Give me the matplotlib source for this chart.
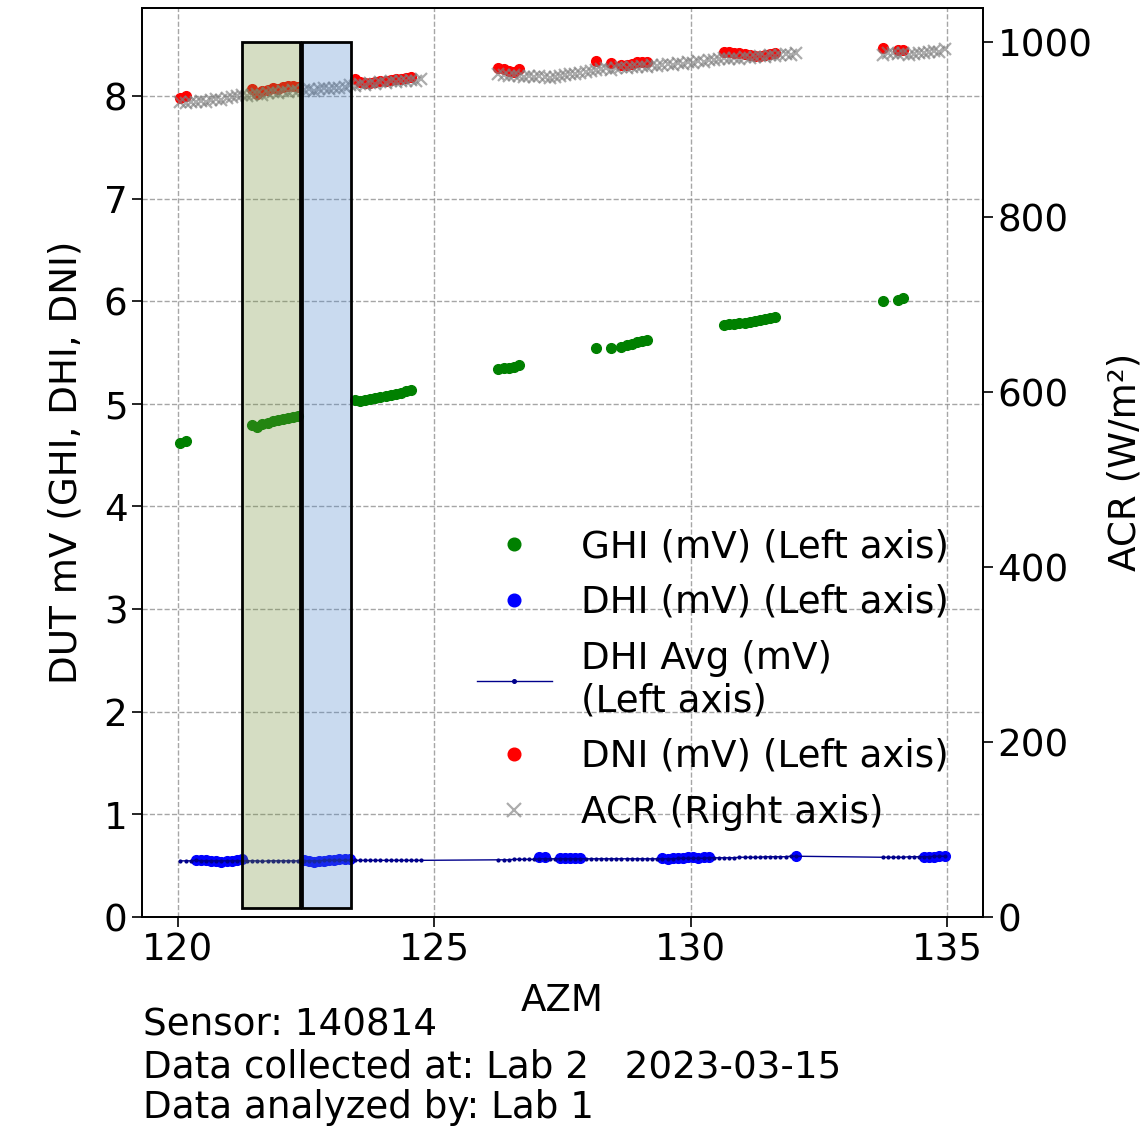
import numpy as np
import matplotlib
matplotlib.use('Agg')
import matplotlib.pyplot as plt
from matplotlib.patches import Rectangle

# all samples (AZM), with ACR and DHI average
azm_all = [120.05, 120.15, 120.25, 120.35, 120.45, 120.55, 120.65, 120.75, 120.85, 120.95,
           121.05, 121.15, 121.25, 121.35, 121.45, 121.55, 121.65, 121.75, 121.85, 121.95,
           122.05, 122.15, 122.25, 122.35, 122.45, 122.55, 122.65, 122.75, 122.85, 122.95,
           123.05, 123.15, 123.25, 123.35, 123.45, 123.55, 123.65, 123.75, 123.85, 123.95,
           124.05, 124.15, 124.25, 124.35, 124.45, 124.55, 124.65, 124.75,
           126.25, 126.35, 126.45, 126.55, 126.65, 126.75,
           126.85, 126.95, 127.05, 127.15, 127.25, 127.35, 127.45, 127.55, 127.65, 127.75,
           127.85, 127.95, 128.05, 128.15, 128.25, 128.35, 128.45, 128.55, 128.65, 128.75,
           128.85, 128.95, 129.05, 129.15, 129.25, 129.35, 129.45, 129.55, 129.65, 129.75,
           129.85, 129.95, 130.05, 130.15, 130.25, 130.35, 130.45, 130.55, 130.65, 130.75,
           130.85, 130.95, 131.05, 131.15, 131.25, 131.35, 131.45, 131.55, 131.65, 131.75,
           131.85, 131.95, 132.05,
           133.75, 133.85, 133.95, 134.05, 134.15, 134.25, 134.35, 134.45, 134.55, 134.65,
           134.75, 134.85, 134.95]

acr = [931, 930, 932, 931, 933, 932, 934, 935, 934, 936,
       937, 938, 939, 938, 940, 941, 940, 942, 943, 942,
       944, 943, 945, 944, 945, 946, 944, 946, 947, 946,
       948, 947, 949, 951, 950, 952, 951, 953, 952, 954,
       953, 955, 954, 956, 955, 957, 956, 958,
       963, 962, 961, 962, 961, 960,
       961, 960, 961, 960, 959, 960, 961, 962, 963, 964,
       965, 966, 967, 968, 969, 970, 968, 970, 971, 970,
       972, 971, 973, 972, 974, 973, 974, 975, 974, 976,
       975, 977, 976, 978, 977, 979, 980, 981, 982, 981,
       982, 981, 983, 982, 983, 984, 983, 985, 984, 985,
       986, 985, 987,
       985, 987, 988, 986, 987, 985, 986, 988, 987, 989,
       990, 989, 992]

dhi_avg = [0.545, 0.545, 0.545, 0.55, 0.545, 0.545, 0.545, 0.545, 0.545, 0.545,
           0.545, 0.545, 0.545, 0.545, 0.545, 0.545, 0.54, 0.545, 0.545, 0.545,
           0.545, 0.545, 0.545, 0.545, 0.545, 0.545, 0.545, 0.545, 0.55, 0.55,
           0.55, 0.55, 0.55, 0.55, 0.55, 0.55, 0.55, 0.55, 0.55, 0.55,
           0.55, 0.55, 0.55, 0.55, 0.55, 0.55, 0.55, 0.55,
           0.555, 0.555, 0.555, 0.56, 0.56, 0.56,
           0.56, 0.56, 0.565, 0.565, 0.565, 0.565, 0.565, 0.565, 0.565, 0.565,
           0.565, 0.565, 0.565, 0.565, 0.565, 0.565, 0.565, 0.565, 0.565, 0.565,
           0.565, 0.565, 0.565, 0.565, 0.565, 0.565, 0.565, 0.565, 0.565, 0.57,
           0.57, 0.57, 0.57, 0.57, 0.57, 0.575, 0.575, 0.575, 0.575, 0.575,
           0.575, 0.58, 0.58, 0.58, 0.58, 0.58, 0.585, 0.585, 0.585, 0.585,
           0.585, 0.59, 0.59,
           0.58, 0.58, 0.58, 0.58, 0.58, 0.585, 0.585, 0.585, 0.585, 0.585,
           0.59, 0.59, 0.59]

# GHI / DNI samples (unshaded)
azm_sun = [120.05, 120.15,
           121.45, 121.55, 121.65, 121.75, 121.85, 121.95, 122.05, 122.15, 122.25, 122.35,
           123.45, 123.55, 123.65, 123.75, 123.85, 123.95, 124.05, 124.15, 124.25, 124.35, 124.45, 124.55,
           126.25, 126.35, 126.45, 126.55, 126.65,
           128.15, 128.45, 128.65, 128.75, 128.85, 128.95, 129.05, 129.15,
           130.65, 130.75, 130.85, 130.95, 131.05, 131.15, 131.25, 131.35, 131.45, 131.55, 131.65,
           133.75, 134.05, 134.15]
ghi = [4.62, 4.64,
       4.79, 4.77, 4.80, 4.81, 4.83, 4.84, 4.85, 4.86, 4.87, 4.88,
       5.04, 5.03, 5.04, 5.05, 5.06, 5.07, 5.08, 5.09, 5.10, 5.11, 5.13, 5.14,
       5.34, 5.35, 5.35, 5.36, 5.38,
       5.54, 5.54, 5.55, 5.57, 5.58, 5.60, 5.61, 5.62,
       5.77, 5.78, 5.78, 5.79, 5.79, 5.80, 5.81, 5.82, 5.83, 5.84, 5.85,
       6.00, 6.01, 6.03]
dni = [7.98, 8.00,
       8.07, 8.02, 8.05, 8.06, 8.08, 8.07, 8.09, 8.10, 8.10, 8.09,
       8.17, 8.14, 8.13, 8.13, 8.14, 8.15, 8.15, 8.16, 8.17, 8.17, 8.18, 8.19,
       8.27, 8.26, 8.25, 8.24, 8.26,
       8.34, 8.32, 8.30, 8.30, 8.31, 8.33, 8.33, 8.33,
       8.43, 8.43, 8.42, 8.42, 8.41, 8.40, 8.39, 8.39, 8.40, 8.41, 8.42,
       8.47, 8.45, 8.45]

# DHI samples (shaded)
azm_shade = [120.35, 120.45, 120.55, 120.65, 120.75, 120.85, 120.95, 121.05, 121.15, 121.25,
             122.45, 122.55, 122.65, 122.75, 122.85, 122.95, 123.05, 123.15, 123.25, 123.35,
             127.05, 127.15, 127.45, 127.55, 127.65, 127.75, 127.85,
             129.45, 129.55, 129.65, 129.75, 129.85, 129.95, 130.05, 130.15, 130.25, 130.35,
             132.05,
             134.55, 134.65, 134.75, 134.85, 134.95]
dhi = [0.55, 0.555, 0.555, 0.545, 0.54, 0.535, 0.54, 0.545, 0.55, 0.56,
       0.55, 0.545, 0.535, 0.54, 0.545, 0.55, 0.555, 0.56, 0.565, 0.565,
       0.58, 0.58, 0.57, 0.57, 0.57, 0.57, 0.575,
       0.57, 0.565, 0.57, 0.575, 0.575, 0.58, 0.58, 0.575, 0.58, 0.58,
       0.595,
       0.58, 0.585, 0.585, 0.59, 0.59]

# selected windows (AZM start, end) on ACR scale
win_green = (121.26, 122.39)
win_blue = (122.43, 123.37)
win_y = (10, 1000)

fs = 26.8
plt.rcParams['font.size'] = fs

fig = plt.figure(figsize=(11.45, 11.36), dpi=100)
ax = fig.add_axes([0.124, 0.193, 0.7345, 0.800])
ax2 = ax.twinx()

l1, = ax.plot(azm_sun, ghi, 'o', color='green', ms=7, label='GHI (mV) (Left axis)')
l2, = ax.plot(azm_shade, dhi, 'o', color='blue', ms=7, label='DHI (mV) (Left axis)')
l3, = ax.plot(azm_all, dhi_avg, '.-', color='darkblue', ms=4, lw=1,
              label='DHI Avg (mV)\n(Left axis)')
l4, = ax.plot(azm_sun, dni, 'o', color='red', ms=7, label='DNI (mV) (Left axis)')
l5, = ax2.plot(azm_all, acr, 'x', color='grey', ms=8, mew=1.6, alpha=0.65,
               label='ACR (Right axis)')

ax2.add_patch(Rectangle((win_green[0], win_y[0]), win_green[1] - win_green[0],
                        win_y[1] - win_y[0], facecolor=(0.46, 0.57, 0.23), alpha=0.3,
                        edgecolor='none', zorder=3))
ax2.add_patch(Rectangle((win_blue[0], win_y[0]), win_blue[1] - win_blue[0],
                        win_y[1] - win_y[0], facecolor=(0.31, 0.53, 0.80), alpha=0.3,
                        edgecolor='none', zorder=3))
for w in (win_green, win_blue):
    ax2.add_patch(Rectangle((w[0], win_y[0]), w[1] - w[0], win_y[1] - win_y[0],
                            fill=False, edgecolor='black', lw=2, zorder=4))

ax.set_xlim(119.3, 135.7)
ax.set_ylim(0, 8.86)
ax2.set_ylim(0, 1039)
ax.set_xticks([120, 125, 130, 135])
ax.set_yticks(np.arange(0, 9))
ax2.set_yticks([0, 200, 400, 600, 800, 1000])

ax.grid(True, ls='--', color='grey', alpha=0.7, lw=1)
ax.set_xlabel('AZM', labelpad=10)
ax.set_ylabel('DUT mV (GHI, DHI, DNI)', labelpad=14)
ax2.set_ylabel('ACR (W/m²)', labelpad=10)

for a in (ax, ax2):
    a.tick_params(length=7, width=1.2)
    for s in a.spines.values():
        s.set_linewidth(1.3)

ax.legend(handles=[l1, l2, l3, l4, l5], loc='lower right', markerscale=1.3,
          bbox_to_anchor=(1.0, 0.058), frameon=False)

fig.text(0.125, 0.098, 'Sensor: 140814', va='center')
fig.text(0.125, 0.061, 'Data collected at: Lab 2   2023-03-15', va='center')
fig.text(0.125, 0.025, 'Data analyzed by: Lab 1', va='center')

fig.savefig('out.png', dpi=100)
